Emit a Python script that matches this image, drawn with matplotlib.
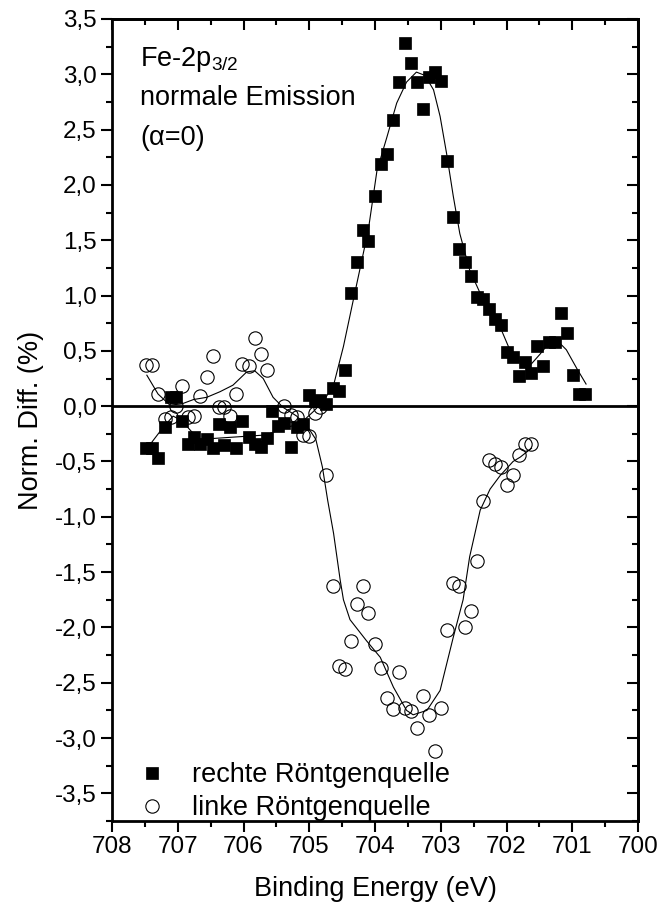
import numpy as np
import matplotlib
matplotlib.use("Agg")
import matplotlib.pyplot as plt
from matplotlib.ticker import MultipleLocator, FuncFormatter

plt.rcParams['font.family'] = ['Liberation Sans', 'DejaVu Sans']
plt.rcParams['mathtext.fontset'] = 'custom'
plt.rcParams['mathtext.rm'] = 'Liberation Sans'
plt.rcParams['mathtext.it'] = 'Liberation Sans:italic'

# rechte Roentgenquelle (filled squares)
e_rechts = [707.48, 707.39, 707.30, 707.20, 707.11, 707.02, 706.93, 706.84, 706.75, 706.66,
            706.56, 706.47, 706.38, 706.29, 706.20, 706.11, 706.02, 705.92, 705.83, 705.74,
            705.65, 705.56, 705.47, 705.38, 705.28, 705.19, 705.10, 705.01, 704.92, 704.83,
            704.74, 704.64, 704.55, 704.46, 704.37, 704.28, 704.19, 704.10, 704.00, 703.91,
            703.82, 703.73, 703.64, 703.55, 703.46, 703.36, 703.27, 703.18, 703.09, 703.00,
            702.91, 702.82, 702.72, 702.63, 702.54, 702.45, 702.36, 702.27, 702.18, 702.08,
            701.99, 701.90, 701.81, 701.72, 701.63, 701.54, 701.44, 701.35, 701.26, 701.17,
            701.08, 700.99, 700.90, 700.81]
d_rechts = [-0.38, -0.38, -0.47, -0.19, 0.08, 0.08, -0.13, -0.34, -0.28, -0.34,
            -0.30, -0.38, -0.16, -0.35, -0.19, -0.38, -0.13, -0.28, -0.34, -0.37,
            -0.29, -0.04, -0.18, -0.15, -0.37, -0.19, -0.16, 0.10, 0.05, 0.06,
            0.02, 0.16, 0.14, 0.33, 1.02, 1.30, 1.59, 1.49, 1.90, 2.19,
            2.28, 2.59, 2.93, 3.28, 3.10, 2.93, 2.69, 2.98, 3.02, 2.94,
            2.22, 1.71, 1.42, 1.30, 1.18, 0.99, 0.97, 0.88, 0.79, 0.73,
            0.49, 0.44, 0.27, 0.40, 0.30, 0.54, 0.36, 0.58, 0.58, 0.84,
            0.66, 0.28, 0.11, 0.11]

# linke Roentgenquelle (open circles)
e_links = [707.48, 707.39, 707.30, 707.20, 707.11, 707.02, 706.93, 706.84, 706.75, 706.66,
           706.56, 706.47, 706.38, 706.29, 706.20, 706.11, 706.02, 705.92, 705.83, 705.74,
           705.65, 705.38, 705.28, 705.19, 705.10, 705.01, 704.92, 704.83, 704.74, 704.64,
           704.55, 704.46, 704.37, 704.28, 704.19, 704.10, 704.00, 703.91, 703.82, 703.73,
           703.64, 703.55, 703.46, 703.36, 703.27, 703.18, 703.09, 703.00, 702.91, 702.82,
           702.72, 702.63, 702.54, 702.45, 702.36, 702.27, 702.18, 702.08, 701.99, 701.90,
           701.81, 701.72, 701.63]
d_links = [0.37, 0.37, 0.11, -0.12, -0.10, 0.00, 0.18, -0.10, -0.09, 0.09,
           0.26, 0.45, -0.01, -0.01, -0.09, 0.11, 0.38, 0.36, 0.62, 0.47,
           0.33, 0.00, -0.08, -0.10, -0.26, -0.27, -0.06, -0.01, -0.62, -1.63,
           -2.35, -2.38, -2.12, -1.79, -1.63, -1.87, -2.15, -2.37, -2.64, -2.74,
           -2.40, -2.73, -2.76, -2.91, -2.62, -2.79, -3.12, -2.73, -2.02, -1.60,
           -1.63, -2.00, -1.85, -1.40, -0.86, -0.49, -0.52, -0.55, -0.71, -0.62,
           -0.44, -0.34, -0.34]

# smoothed fit curves
fit_e_rechts = [707.46, 707.40, 707.22, 707.07, 706.94, 706.79, 706.66, 706.16, 705.65,
                705.40, 705.14, 704.94, 704.78, 704.63, 704.48, 704.33, 704.20, 704.10,
                703.97, 703.82, 703.67, 703.52, 703.37, 703.24, 703.11, 703.01, 702.91,
                702.81, 702.71, 702.56, 702.40, 702.25, 702.10, 701.95, 701.79, 701.64,
                701.49, 701.34, 701.24, 701.09, 700.93, 700.79]
fit_d_rechts = [-0.36, -0.33, -0.19, -0.09, -0.13, -0.23, -0.30, -0.28, -0.26,
                -0.20, -0.16, -0.05, 0.05, 0.19, 0.54, 0.96, 1.32, 1.60,
                2.13, 2.43, 2.74, 2.93, 3.02, 2.99, 2.86, 2.62, 2.28,
                1.90, 1.56, 1.23, 1.02, 0.87, 0.72, 0.51, 0.40, 0.37,
                0.47, 0.58, 0.60, 0.51, 0.34, 0.20]

fit_e_links = [707.47, 707.30, 707.12, 706.94, 706.76, 706.56, 706.36, 706.16, 705.95,
               705.83, 705.70, 705.55, 705.40, 705.19, 705.01, 704.90, 704.80, 704.72,
               704.63, 704.53, 704.48, 704.38, 704.13, 703.92, 703.72, 703.52, 703.42,
               703.21, 703.01, 702.81, 702.66, 702.56, 702.40, 702.25, 702.10, 701.90,
               701.79, 701.62]
fit_d_links = [0.28, 0.11, 0.01, 0.02, 0.06, 0.08, 0.13, 0.19, 0.31,
               0.32, 0.25, 0.08, -0.01, -0.09, -0.20, -0.30, -0.55, -0.85,
               -1.15, -1.57, -1.75, -1.93, -2.12, -2.27, -2.54, -2.75, -2.79,
               -2.75, -2.57, -2.09, -1.75, -1.36, -0.94, -0.75, -0.63, -0.50,
               -0.46, -0.38]

fig = plt.figure(figsize=(6.59, 9.09), dpi=100)
ax = fig.add_axes([112/659, 1-821/909, (638-112)/659, (821-19)/909])

ax.axhline(0, color='black', lw=2.0, zorder=1)
ax.plot(fit_e_rechts, fit_d_rechts, color='black', lw=0.8, zorder=2)
ax.plot(fit_e_links, fit_d_links, color='black', lw=0.8, zorder=2)
ax.plot(e_rechts, d_rechts, 's', color='black', ms=9, mec='black', mew=0.5,
        label='rechte Röntgenquelle', zorder=3)
ax.plot(e_links, d_links, 'o', mfc='none', mec='black', ms=9.6, mew=0.8,
        label='linke Röntgenquelle', zorder=3)

ax.set_xlim(708, 700)
ax.set_ylim(-3.75, 3.5)

ax.xaxis.set_major_locator(MultipleLocator(1))
ax.xaxis.set_minor_locator(MultipleLocator(0.5))
ax.yaxis.set_major_locator(MultipleLocator(0.5))
ax.yaxis.set_minor_locator(MultipleLocator(0.25))
ax.yaxis.set_major_formatter(FuncFormatter(lambda v, p: ('%.1f' % v).replace('.', ',').replace('-0,0', '0,0')))
ax.xaxis.set_major_formatter(FuncFormatter(lambda v, p: '%d' % round(v)))

for s in ax.spines.values():
    s.set_linewidth(2.0)

ax.tick_params(which='both', direction='out', width=1.5, labelsize=17.5, top=False, right=False)
ax.tick_params(which='major', length=8)
ax.tick_params(which='minor', length=4.5)
ax.tick_params(axis='x', pad=3)
ax.tick_params(axis='y', pad=3)

# inward ticks on top and right
sec_x = ax.secondary_xaxis('top')
sec_x.xaxis.set_major_locator(MultipleLocator(1))
sec_x.xaxis.set_minor_locator(MultipleLocator(0.5))
sec_x.tick_params(which='both', direction='in', width=1.5, labeltop=False)
sec_x.tick_params(which='major', length=8)
sec_x.tick_params(which='minor', length=4.5)
sec_x.spines['top'].set_linewidth(2.0)
sec_y = ax.secondary_yaxis('right')
sec_y.yaxis.set_major_locator(MultipleLocator(0.5))
sec_y.yaxis.set_minor_locator(MultipleLocator(0.25))
sec_y.tick_params(which='both', direction='in', width=1.5, labelright=False)
sec_y.tick_params(which='major', length=8)
sec_y.tick_params(which='minor', length=4.5)
sec_y.spines['right'].set_linewidth(2.0)

ax.set_xlabel('Binding Energy (eV)', fontsize=19.5, labelpad=13)
ax.set_ylabel('Norm. Diff. (%)', fontsize=19.5, labelpad=8)

ax.text(0.053, 0.967, 'Fe-2p$_\\mathregular{3/2}$', transform=ax.transAxes,
        fontsize=19.5, va='top')
ax.text(0.053, 0.918, 'normale Emission', transform=ax.transAxes,
        fontsize=19.5, va='top')
ax.text(0.053, 0.868, '(α=0)', transform=ax.transAxes,
        fontsize=19.5, va='top')

ax.legend(loc='lower left', bbox_to_anchor=(0.05, 0.0), frameon=False, fontsize=19.5,
          numpoints=1, handlelength=1.0, handletextpad=1.0, labelspacing=0.25,
          borderpad=0.0, borderaxespad=0.0)

fig.savefig('out.png', dpi=100)
